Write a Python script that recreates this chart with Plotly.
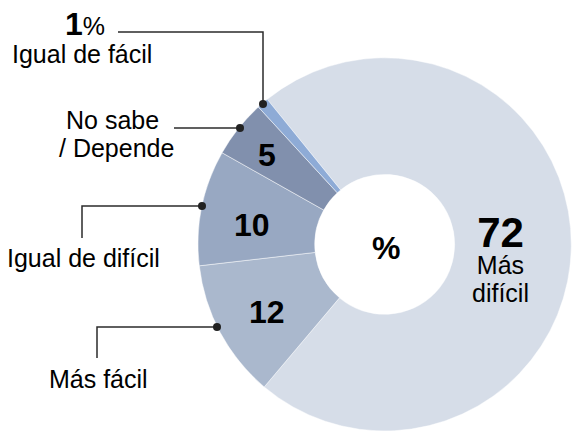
import plotly.graph_objects as go

# ---- data ----
categories = ["Más difícil", "Más fácil", "Igual de difícil", "No sabe / Depende", "Igual de fácil"]
values = [72, 12, 10, 5, 1]
colors = ["#d6dde8", "#aab8cd", "#98a8c2", "#8190ad", "#8eabd6"]

W, H = 572, 431
FONT = "Arial, Liberation Sans, sans-serif"


def px(x):
    return x / W


def py(y):
    return 1 - y / H


fig = go.Figure()
fig.add_trace(go.Pie(
    labels=categories,
    values=values,
    sort=False,
    direction="clockwise",
    rotation=-39,
    hole=0.375,
    marker=dict(colors=colors, line=dict(color="rgba(255,255,255,0.6)", width=0.8)),
    textinfo="none",
    hoverinfo="label+value",
    domain=dict(x=[0.345, 1.0], y=[0.0, 0.866]),
    showlegend=False,
))

annotations = []


def add_text(text, x, y, size, bold=False, xanchor="center"):
    annotations.append(dict(
        text=f"<b>{text}</b>" if bold else text,
        x=px(x), y=py(y), xref="paper", yref="paper",
        xanchor=xanchor, yanchor="middle", showarrow=False,
        font=dict(family=FONT, size=size, color="#000000"),
    ))


# inside values
annotations.append(dict(
    text=(f"<b><span style='font-size:42px'>{values[0]}</span></b><br>"
          "<span style='font-size:25px'>Más</span><br>"
          "<span style='font-size:25px'>difícil</span>"),
    x=px(500), y=py(258), xref="paper", yref="paper",
    xanchor="center", yanchor="middle", showarrow=False,
    font=dict(family=FONT, size=21, color="#000000"),
))
add_text(str(values[1]), 267, 312, 32, bold=True)
add_text(str(values[2]), 252, 225, 32, bold=True)
add_text(str(values[3]), 267, 155, 32, bold=True)
add_text("%", 386, 248, 32, bold=True)

# outside labels
annotations.append(dict(
    text=f"<b><span style='font-size:32px'>{values[4]}</span></b>%",
    x=px(85), y=py(24), xref="paper", yref="paper",
    xanchor="center", yanchor="middle", showarrow=False,
    font=dict(family=FONT, size=25, color="#000000"),
))
add_text("Igual de fácil", 82, 54, 25)
add_text("No sabe", 112, 120, 25)
add_text("/ Depende", 116, 148, 25)
add_text("Igual de difícil", 83, 258, 25)
add_text("Más fácil", 98, 379, 25)

# leader lines (label layout)
leaders = [
    [(118, 32), (263, 32), (263, 104)],
    [(174, 128), (240, 128)],
    [(82, 238), (82, 206), (202, 206)],
    [(97, 358), (97, 327), (217, 327)],
]
shapes = []
for pts in leaders:
    path = "M " + " L ".join(f"{px(x)},{py(y)}" for x, y in pts)
    shapes.append(dict(type="path", path=path, xref="paper", yref="paper",
                       line=dict(color="#2b2b2b", width=1.5)))
    ex, ey = pts[-1]
    r = 4
    shapes.append(dict(type="circle", xref="paper", yref="paper",
                       x0=px(ex - r), x1=px(ex + r), y0=py(ey + r), y1=py(ey - r),
                       fillcolor="#222222", line=dict(color="#222222", width=0)))

fig.update_layout(
    width=W, height=H,
    margin=dict(l=0, r=0, t=0, b=0),
    paper_bgcolor="white",
    plot_bgcolor="white",
    annotations=annotations,
    shapes=shapes,
    font=dict(family=FONT),
)

fig.write_html(
    "out.html",
    config={"displayModeBar": False},
    post_script="document.body.style.margin='0';document.body.style.overflow='hidden';",
)
